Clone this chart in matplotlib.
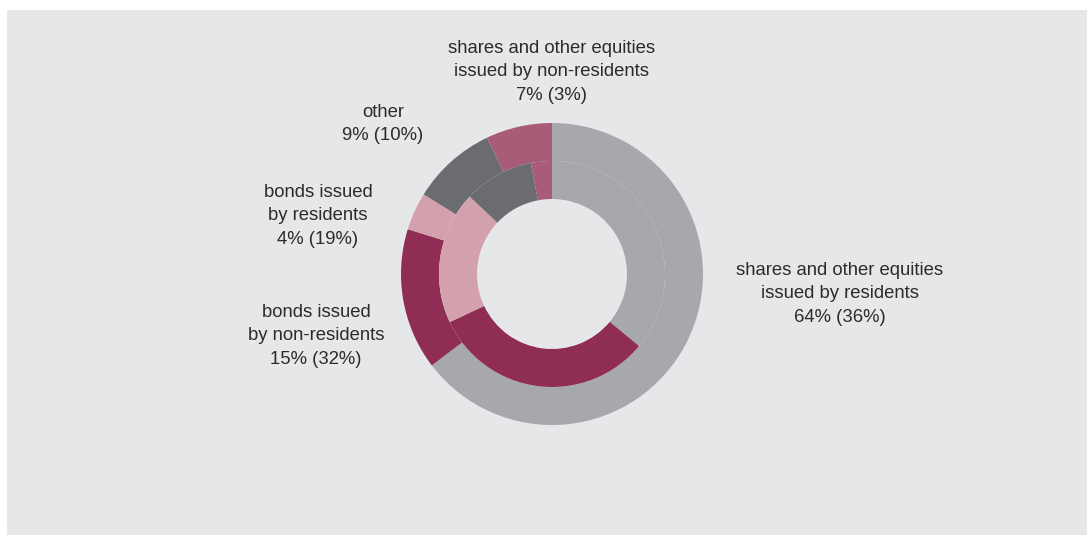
import matplotlib.pyplot as plt
from matplotlib.patches import Rectangle

plt.rcParams['font.family'] = ['Liberation Sans', 'DejaVu Sans']

# portfolio structure: outer ring = first share, inner ring = value in brackets
categories = ['shares and other equities\nissued by residents',
              'bonds issued\nby non-residents',
              'bonds issued\nby residents',
              'other',
              'shares and other equities\nissued by non-residents']
outer_share = [64, 15, 4, 9, 7]
inner_share = [36, 32, 19, 10, 3]
colors = ['#a7a8ab', '#8f2d55', '#d3a1ae', '#6b6c6f', '#a95c77']

W, H = 1087, 535
fig = plt.figure(figsize=(W / 100, H / 100), dpi=100)
ax = fig.add_axes([0, 0, 1, 1])

ax.add_patch(Rectangle((7, 0), W - 7, H - 10, facecolor='#e6e7e9',
                       edgecolor='none', zorder=0))

cx, cy = 552, H - 274
r_out, r_mid, r_hole = 151, 113, 75

ax.pie(outer_share, colors=colors, startangle=90, counterclock=False,
       center=(cx, cy), radius=r_out, frame=True,
       wedgeprops=dict(width=r_out - r_mid, edgecolor='none'))
ax.pie(inner_share, colors=colors, startangle=90, counterclock=False,
       center=(cx, cy), radius=r_mid, frame=True,
       wedgeprops=dict(width=r_mid - r_hole, edgecolor='none'))
ax.set_xlim(0, W)
ax.set_ylim(0, H)
ax.set_aspect('equal')
ax.axis('off')

# label anchors (pixel position of the label's centre line)
label_pos = [(840, 294), (316, 336), (318, 216), (383, 124), (552, 72)]
for name, o, i, (x, y) in zip(categories, outer_share, inner_share, label_pos):
    txt = f'{name}\n{o}% ({i}%)'
    ax.text(x, H - y, txt, ha='center', va='center', fontsize=13.3,
            color='#2b2b2b', linespacing=1.52, zorder=5)

fig.savefig('out.png', dpi=100, facecolor='white')
